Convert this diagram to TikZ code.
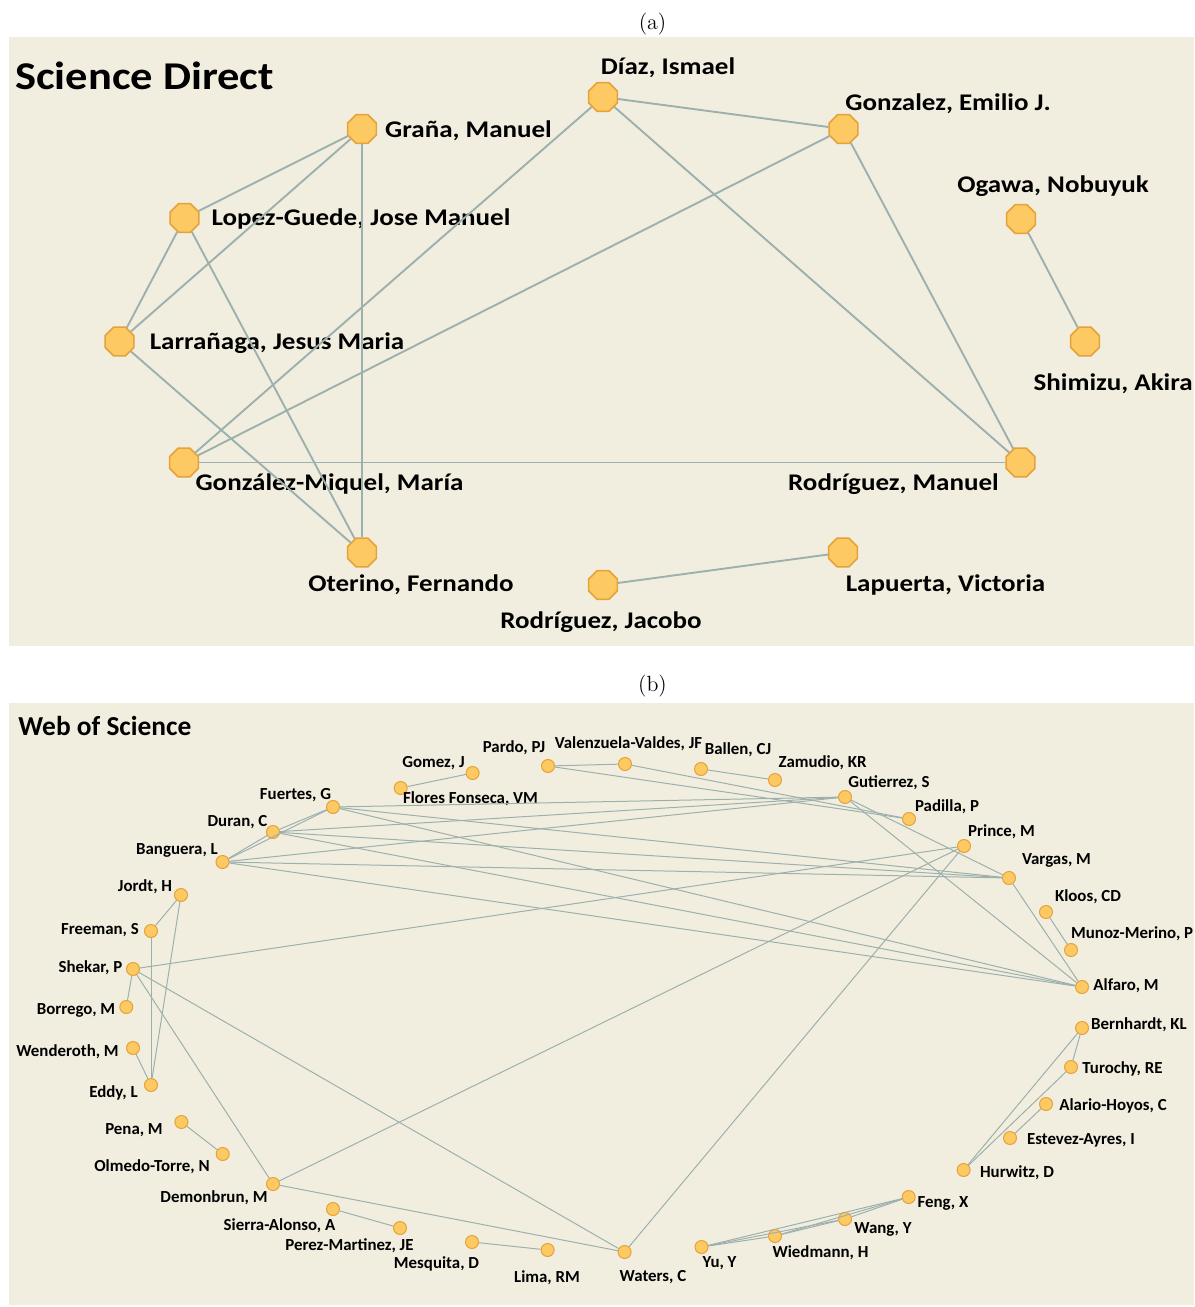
\documentclass[tikz,border=0pt]{standalone}
\usepackage{fontspec}
\usepackage{xcolor}
\usepackage{tikz}
\usetikzlibrary{shapes.geometric}
\newfontfamily\calwide{Carlito}[FakeStretch=1.13]
\newfontfamily\calnarrow{Carlito}
\definecolor{panelbg}{HTML}{F2EEDF}
\definecolor{dotfill}{HTML}{FDC962}
\definecolor{dotline}{HTML}{E6A23A}
\definecolor{linkcol}{HTML}{9CB0AD}

\begin{document}
\begin{tikzpicture}[
    x=0.2mm,
    y=-0.2mm,
    panel/.style={
        fill=panelbg,
        draw=none
    },
    dotA/.style={
        regular polygon,
        regular polygon sides=8,
        minimum size=6.2mm,
        inner sep=0pt,
        fill=dotfill,
        draw=dotline,
        line width=0.3mm
    },
    dotB/.style={
        circle,
        minimum size=2.6mm,
        inner sep=0pt,
        fill=dotfill,
        draw=dotline,
        line width=0.2mm
    },
    labA/.style={
        font=\calwide\bfseries\fontsize{13.6}{15}\selectfont,
        inner sep=0pt,
        text height=11.4pt,
        text depth=2.7pt
    },
    labB/.style={
        font=\calnarrow\bfseries\fontsize{9.6}{11}\selectfont,
        inner sep=0pt,
        text height=8.1pt,
        text depth=1.9pt
    },
    linkA/.style={draw=linkcol, line width=0.38mm},
    linkB/.style={draw=linkcol, line width=0.2mm},
    capt/.style={font=\fontsize{12.5}{14}\selectfont, inner sep=0pt}
]
\useasboundingbox (0,0) rectangle (1194,1307);

% panel (a): Science Direct
\node[capt] (capA) at (652.5,24) {(a)};
\fill[panel] (9,37) rectangle (1194,646);
\node[font=\calwide\bfseries\fontsize{22.4}{24}\selectfont, inner sep=0pt, anchor=west]
    (titleA) at (15,75.5) {Science Direct};

\node[dotA] (grana) at (362,129) {};
\node[dotA] (diaz) at (603,97) {};
\node[dotA] (gonzalezE) at (843.5,129) {};
\node[dotA] (lopez) at (184.5,218) {};
\node[dotA] (ogawa) at (1021,219) {};
\node[dotA] (larra) at (119.5,341.5) {};
\node[dotA] (shimizu) at (1085,341.5) {};
\node[dotA] (gmiquel) at (184,462.5) {};
\node[dotA] (rmanuel) at (1020.5,462.5) {};
\node[dotA] (oterino) at (362,552.5) {};
\node[dotA] (rjacobo) at (603,585) {};
\node[dotA] (lapuerta) at (843,552.5) {};

\node[labA] (granaL) at (468.5,129.5) {Graña, Manuel};
\node[labA] (diazL) at (668,67) {Díaz, Ismael};
\node[labA] (gonzalezEL) at (948,103) {Gonzalez, Emilio J.};
\node[labA] (lopezL) at (361,217.5) {Lopez-Guede, Jose Manuel};
\node[labA] (ogawaL) at (1053,185) {Ogawa, Nobuyuk};
\node[labA] (larraL) at (277,342) {Larrañaga, Jesus Maria};
\node[labA, anchor=east] (shimizuL) at (1193,382.5) {Shimizu, Akira};
\node[labA] (gmiquelL) at (329.5,483) {González-Miquel, María};
\node[labA] (rmanuelL) at (893.5,483) {Rodríguez, Manuel};
\node[labA] (oterinoL) at (411,584) {Oterino, Fernando};
\node[labA] (rjacoboL) at (601,621) {Rodríguez, Jacobo};
\node[labA] (lapuertaL) at (945.5,584) {Lapuerta, Victoria};

\draw[linkA] (grana) -- (lopez);
\draw[linkA] (grana) -- (larra);
\draw[linkA] (grana) -- (oterino);
\draw[linkA] (lopez) -- (larra);
\draw[linkA] (lopez) -- (oterino);
\draw[linkA] (larra) -- (oterino);
\draw[linkA] (diaz) -- (gonzalezE);
\draw[linkA] (diaz) -- (gmiquel);
\draw[linkA] (diaz) -- (rmanuel);
\draw[linkA] (gonzalezE) -- (gmiquel);
\draw[linkA] (gonzalezE) -- (rmanuel);
\draw[linkA] (gmiquel) -- (rmanuel);
\draw[linkA] (ogawa) -- (shimizu);
\draw[linkA] (rjacobo) -- (lapuerta);

% panel (b): Web of Science
\node[capt] (capB) at (652.5,686) {(b)};
\fill[panel] (9,703) rectangle (1194,1305);
\node[font=\calnarrow\bfseries\fontsize{15.6}{17}\selectfont, inner sep=0pt, anchor=west]
    (titleB) at (18,726) {Web of Science};

% top arc
\node[dotB] (fuertes) at (333,807) {};
\node[dotB] (duran) at (273,832) {};
\node[dotB] (banguera) at (222.5,862) {};
\node[dotB] (flores) at (400.7,788) {};
\node[dotB] (gomez) at (472.6,773) {};
\node[dotB] (pardo) at (548,766) {};
\node[dotB] (valen) at (625,764) {};
\node[dotB] (ballen) at (701,769) {};
\node[dotB] (zamudio) at (775,780) {};
\node[dotB] (gutierrez) at (845,797) {};
\node[dotB] (padilla) at (909,819) {};
\node[dotB] (prince) at (964,846) {};
\node[dotB] (vargas) at (1009,878) {};
\node[dotB] (kloos) at (1046,912) {};
\node[dotB] (munoz) at (1071,950) {};
\node[dotB] (alfaro) at (1082,987) {};
% right and bottom arc
\node[dotB] (bernhardt) at (1082,1028) {};
\node[dotB] (turochy) at (1071,1067) {};
\node[dotB] (alario) at (1046,1104) {};
\node[dotB] (estevez) at (1010,1138) {};
\node[dotB] (hurwitz) at (963.6,1170) {};
\node[dotB] (feng) at (908.7,1197) {};
\node[dotB] (wang) at (845,1219) {};
\node[dotB] (wiedmann) at (775,1236) {};
\node[dotB] (yu) at (701.5,1247) {};
\node[dotB] (waters) at (624.6,1252) {};
\node[dotB] (lima) at (547.6,1250) {};
\node[dotB] (mesquita) at (472,1242) {};
\node[dotB] (perez) at (400,1228) {};
\node[dotB] (sierra) at (333,1209) {};
\node[dotB] (demonbrun) at (273,1184) {};
% left arc
\node[dotB] (olmedo) at (222.7,1154) {};
\node[dotB] (pena) at (181.4,1122) {};
\node[dotB] (eddy) at (151,1085) {};
\node[dotB] (wenderoth) at (133,1048) {};
\node[dotB] (borrego) at (126.3,1007) {};
\node[dotB] (shekar) at (133,969) {};
\node[dotB] (freeman) at (151,931) {};
\node[dotB] (jordt) at (181,895) {};

% names
\node[labB] (fuertesL) at (295.5,794) {Fuertes, G};
\node[labB] (duranL) at (237.5,821) {Duran, C};
\node[labB] (bangueraL) at (177,849) {Banguera, L};
\node[labB] (floresL) at (470.5,798) {Flores Fonseca, VM};
\node[labB] (gomezL) at (433.5,762.5) {Gomez, J};
\node[labB] (pardoL) at (514,747.5) {Pardo, PJ};
\node[labB] (valenL) at (628.5,743) {Valenzuela-Valdes, JF};
\node[labB] (ballenL) at (738,749.5) {Ballen, CJ};
\node[labB] (zamudioL) at (822.5,762.5) {Zamudio, KR};
\node[labB] (gutierrezL) at (889,782) {Gutierrez, S};
\node[labB] (padillaL) at (947,806.5) {Padilla, P};
\node[labB] (princeL) at (1001.5,831.5) {Prince, M};
\node[labB] (vargasL) at (1056.5,859) {Vargas, M};
\node[labB] (kloosL) at (1088,896) {Kloos, CD};
\node[labB, anchor=east] (munozL) at (1193.5,933.5) {Munoz-Merino, P};
\node[labB] (alfaroL) at (1126,985) {Alfaro, M};
\node[labB] (bernhardtL) at (1139,1024) {Bernhardt, KL};
\node[labB] (turochyL) at (1122.5,1068.5) {Turochy, RE};
\node[labB] (alarioL) at (1113,1105) {Alario-Hoyos, C};
\node[labB] (estevezL) at (1081,1139) {Estevez-Ayres, I};
\node[labB] (hurwitzL) at (1017,1172) {Hurwitz, D};
\node[labB] (fengL) at (943,1202.5) {Feng, X};
\node[labB] (wangL) at (883,1228) {Wang, Y};
\node[labB] (wiedmannL) at (820.5,1252.5) {Wiedmann, H};
\node[labB] (yuL) at (719.5,1262.5) {Yu, Y};
\node[labB] (watersL) at (653,1276.5) {Waters, C};
\node[labB] (limaL) at (547,1277) {Lima, RM};
\node[labB] (mesquitaL) at (436.5,1263.5) {Mesquita, D};
\node[labB] (perezL) at (349.5,1245) {Perez-Martinez, JE};
\node[labB] (sierraL) at (279.5,1225) {Sierra-Alonso, A};
\node[labB] (demonbrunL) at (214,1197.5) {Demonbrun, M};
\node[labB] (olmedoL) at (152,1166) {Olmedo-Torre, N};
\node[labB] (penaL) at (134,1129) {Pena, M};
\node[labB] (eddyL) at (113.5,1092) {Eddy, L};
\node[labB] (wenderothL) at (67.5,1051) {Wenderoth, M};
\node[labB] (borregoL) at (76,1009) {Borrego, M};
\node[labB] (shekarL) at (90.5,967.5) {Shekar, P};
\node[labB] (freemanL) at (100,929) {Freeman, S};
\node[labB] (jordtL) at (145,886) {Jordt, H};

% six-author group
\draw[linkB] (fuertes) -- (duran);
\draw[linkB] (fuertes) -- (banguera);
\draw[linkB] (duran) -- (banguera);
\draw[linkB] (fuertes) -- (gutierrez);
\draw[linkB] (duran) -- (gutierrez);
\draw[linkB] (banguera) -- (gutierrez);
\draw[linkB] (fuertes) -- (vargas);
\draw[linkB] (duran) -- (vargas);
\draw[linkB] (banguera) -- (vargas);
\draw[linkB] (fuertes) -- (alfaro);
\draw[linkB] (duran) -- (alfaro);
\draw[linkB] (banguera) -- (alfaro);
\draw[linkB] (gutierrez) -- (vargas);
\draw[linkB] (gutierrez) -- (alfaro);
\draw[linkB] (vargas) -- (alfaro);
% Prince group
\draw[linkB] (shekar) -- (prince);
\draw[linkB] (demonbrun) -- (prince);
\draw[linkB] (waters) -- (prince);
\draw[linkB] (shekar) -- (demonbrun);
\draw[linkB] (shekar) -- (waters);
\draw[linkB] (demonbrun) -- (waters);
\draw[linkB] (shekar) -- (borrego);
% Feng group
\draw[linkB] (yu) -- (wiedmann);
\draw[linkB] (yu) -- (wang);
\draw[linkB] (yu) -- (feng);
\draw[linkB] (wiedmann) -- (wang);
\draw[linkB] (wiedmann) -- (feng);
\draw[linkB] (wang) -- (feng);
% small groups
\draw[linkB] (gomez) -- (flores);
\draw[linkB] (pardo) -- (valen);
\draw[linkB] (pardo) -- (padilla);
\draw[linkB] (valen) -- (padilla);
\draw[linkB] (ballen) -- (zamudio);
\draw[linkB] (kloos) -- (munoz);
\draw[linkB] (bernhardt) -- (turochy);
\draw[linkB] (bernhardt) -- (hurwitz);
\draw[linkB] (turochy) -- (hurwitz);
\draw[linkB] (alario) -- (estevez);
\draw[linkB] (jordt) -- (freeman);
\draw[linkB] (jordt) -- (eddy);
\draw[linkB] (freeman) -- (eddy);
\draw[linkB] (wenderoth) -- (eddy);
\draw[linkB] (pena) -- (olmedo);
\draw[linkB] (sierra) -- (perez);
\draw[linkB] (mesquita) -- (lima);

\end{tikzpicture}
\end{document}
